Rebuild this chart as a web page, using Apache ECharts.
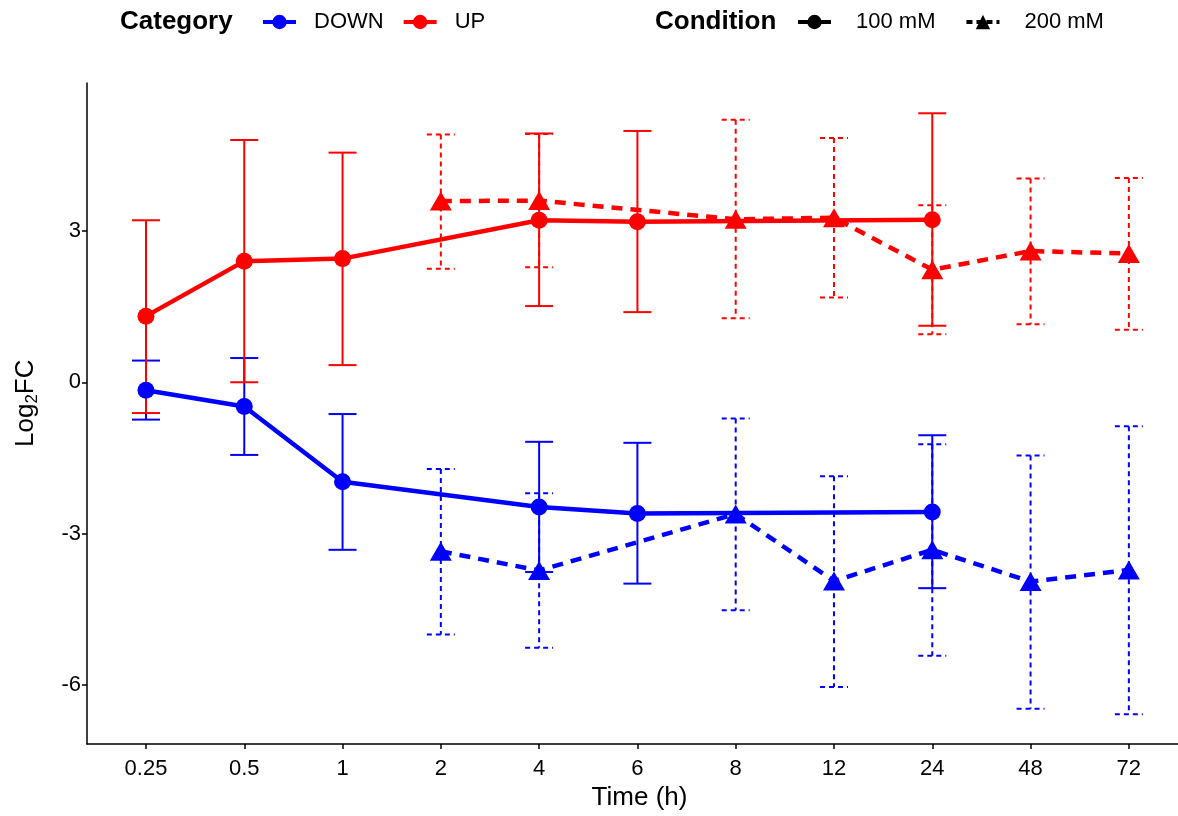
<!DOCTYPE html>
<html>
<head>
<meta charset="utf-8">
<title>Log2FC over time</title>
<script src="https://cdn.jsdelivr.net/npm/echarts@6/dist/echarts.min.js"></script>
<style>
  html, body { margin: 0; padding: 0; background: #ffffff; }
  #chart { width: 1178px; height: 816px; }
</style>
</head>
<body>
<div id="chart"></div>
<script>
// Time points shown on the x axis (hours)
const times = ['0.25', '0.5', '1', '2', '4', '6', '8', '12', '24', '48', '72'];
const yTicks = [-6, -3, 0, 3];

// 100 mM condition
const times100 = ['0.25', '0.5', '1', '4', '6', '24'];
const downMean100 = [-0.16, -0.48, -1.97, -2.47, -2.60, -2.57];
const downLow100  = [-0.74, -1.44, -3.32, -3.76, -3.99, -4.08];
const downHigh100 = [0.43, 0.48, -0.63, -1.18, -1.20, -1.05];
const upMean100 = [1.31, 2.40, 2.45, 3.21, 3.18, 3.22];
const upLow100  = [-0.61, 0.00, 0.34, 1.51, 1.39, 1.12];
const upHigh100 = [3.21, 4.80, 4.55, 4.93, 4.98, 5.33];

// 200 mM condition
const times200 = ['2', '4', '8', '12', '24', '48', '72'];
const downMean200 = [-3.35, -3.73, -2.61, -3.94, -3.32, -3.95, -3.72];
const downLow200  = [-5.00, -5.26, -4.52, -6.04, -5.42, -6.47, -6.58];
const downHigh200 = [-1.72, -2.20, -0.72, -1.86, -1.23, -1.45, -0.87];
const upMean200 = [3.59, 3.60, 3.23, 3.26, 2.23, 2.60, 2.55];
const upLow200  = [2.25, 2.28, 1.27, 1.68, 0.95, 1.15, 1.04];
const upHigh200 = [4.91, 4.92, 5.20, 4.84, 3.51, 4.04, 4.05];

const BLUE = '#0000ff';
const RED = '#ff0000';
const FONT = 'Liberation Sans, Arial, sans-serif';

function points(ts, vals) {
  return ts.map((t, i) => [times.indexOf(t), vals[i]]);
}
function ranges(ts, lo, hi) {
  return ts.map((t, i) => [times.indexOf(t), lo[i], hi[i]]);
}

// vertical error bar with caps
function errorBar(color, dashed) {
  return function (params, api) {
    const x = api.value(0);
    const lo = api.coord([x, api.value(1)]);
    const hi = api.coord([x, api.value(2)]);
    const half = 14;
    const style = {
      stroke: color,
      lineWidth: 2,
      lineDash: dashed ? [5, 4] : null,
      fill: null
    };
    return {
      type: 'group',
      children: [
        { type: 'line', shape: { x1: hi[0] - half, y1: hi[1], x2: hi[0] + half, y2: hi[1] }, style: style },
        { type: 'line', shape: { x1: hi[0], y1: hi[1], x2: lo[0], y2: lo[1] }, style: style },
        { type: 'line', shape: { x1: lo[0] - half, y1: lo[1], x2: lo[0] + half, y2: lo[1] }, style: style }
      ]
    };
  };
}

function barSeries(name, color, dashed, data) {
  return {
    name: name,
    type: 'custom',
    renderItem: errorBar(color, dashed),
    encode: { x: 0, y: [1, 2] },
    data: data,
    z: 1,
    silent: true
  };
}

function lineSeries(name, color, dashed, data) {
  return {
    name: name,
    type: 'line',
    data: data,
    color: color,
    symbol: dashed ? 'triangle' : 'circle',
    symbolSize: dashed ? [22, 19] : 17,
    lineStyle: { width: 4.5, color: color, type: dashed ? [11, 8] : 'solid', cap: 'butt' },
    itemStyle: { color: color },
    z: 3,
    silent: true
  };
}

// empty series that only feed the legends
function keySeries(name, color, dashed) {
  return {
    name: name,
    type: 'line',
    data: [],
    color: color,
    symbol: dashed ? 'triangle' : 'circle',
    lineStyle: { width: 4, color: color, type: dashed ? [6, 4] : 'solid' },
    itemStyle: { color: color }
  };
}

const legendCommon = {
  orient: 'horizontal',
  top: 6,
  itemWidth: 33,
  itemHeight: 18,
  selectedMode: false,
  lineStyle: { width: 4 }
};

function legendText(pad) {
  return { fontFamily: FONT, fontSize: 22, color: '#000', padding: [0, 0, 0, pad] };
}

const chart = echarts.init(document.getElementById('chart'), null, { renderer: 'canvas' });

chart.setOption({
  backgroundColor: '#ffffff',
  animation: false,
  grid: { left: 87, right: 0, top: 83, bottom: 70, containLabel: false },
  xAxis: {
    type: 'value',
    min: -0.6,
    max: 10.5,
    name: 'Time (h)',
    nameLocation: 'middle',
    nameGap: 37,
    nameTextStyle: { fontFamily: FONT, fontSize: 26, color: '#000', padding: [0, 0, 0, 14] },
    axisLine: { show: true, onZero: false, lineStyle: { color: '#000', width: 1.5 } },
    axisTick: { show: true, length: 5, customValues: times.map((t, i) => i), lineStyle: { color: '#000', width: 1.5 } },
    axisLabel: {
      customValues: times.map((t, i) => i),
      formatter: v => times[Math.round(v)],
      fontFamily: FONT, fontSize: 22, color: '#000', margin: 14
    },
    splitLine: { show: false }
  },
  yAxis: {
    type: 'value',
    min: -7.17,
    max: 5.93,
    axisLine: { show: true, onZero: false, lineStyle: { color: '#000', width: 1.5 } },
    axisTick: { show: true, length: 5, customValues: yTicks, lineStyle: { color: '#000', width: 1.5 } },
    axisLabel: {
      customValues: yTicks,
      fontFamily: FONT, fontSize: 22, color: '#000', margin: 6
    },
    splitLine: { show: false }
  },
  legend: [
    Object.assign({}, legendCommon, { left: 256, itemGap: 18, textStyle: legendText(13), data: ['DOWN', 'UP'] }),
    Object.assign({}, legendCommon, { left: 791, itemGap: 29, textStyle: legendText(20), data: ['100 mM', '200 mM'] })
  ],
  graphic: [
    {
      type: 'text', left: 120, top: 9,
      style: { text: 'Category', font: 'bold 26px ' + FONT, fill: '#000' }
    },
    {
      type: 'text', left: 655, top: 9,
      style: { text: 'Condition', font: 'bold 26px ' + FONT, fill: '#000' }
    },
    {
      type: 'text',
      x: 10, y: 447,
      rotation: Math.PI / 2,
      style: {
        text: 'Log{sub|2}FC',
        fontFamily: FONT,
        fontSize: 26,
        fill: '#000',
        verticalAlign: 'top',
        rich: {
          sub: { fontFamily: FONT, fontSize: 17, fill: '#000', padding: [14, 0, 0, 0] }
        }
      }
    }
  ],
  series: [
    barSeries('DOWN 100 mM bars', BLUE, false, ranges(times100, downLow100, downHigh100)),
    barSeries('UP 100 mM bars', RED, false, ranges(times100, upLow100, upHigh100)),
    barSeries('DOWN 200 mM bars', BLUE, true, ranges(times200, downLow200, downHigh200)),
    barSeries('UP 200 mM bars', RED, true, ranges(times200, upLow200, upHigh200)),
    lineSeries('DOWN 100 mM', BLUE, false, points(times100, downMean100)),
    lineSeries('UP 100 mM', RED, false, points(times100, upMean100)),
    lineSeries('DOWN 200 mM', BLUE, true, points(times200, downMean200)),
    lineSeries('UP 200 mM', RED, true, points(times200, upMean200)),
    keySeries('DOWN', BLUE, false),
    keySeries('UP', RED, false),
    keySeries('100 mM', '#000', false),
    keySeries('200 mM', '#000', true)
  ]
});
</script>
</body>
</html>
